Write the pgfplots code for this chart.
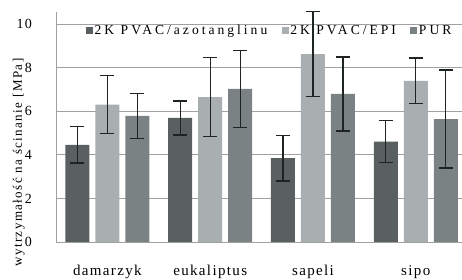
\documentclass[border=0pt]{standalone}
\usepackage{fontspec}
\setmainfont{Liberation Serif}[LetterSpace=12]
\newfontfamily\lsleg{Liberation Serif}[LetterSpace=22]
\newfontfamily\lsx{Liberation Serif}[LetterSpace=9]
\newfontfamily\lsy{Liberation Serif}[LetterSpace=11]
\usepackage{pgfplots}
\pgfplotsset{compat=1.18}
\definecolor{c1}{HTML}{5A6061}
\definecolor{c2}{HTML}{A9AEB0}
\definecolor{c3}{HTML}{7B8284}
\definecolor{gr}{HTML}{A0A0A0}
\definecolor{eb}{HTML}{1E2424}
\pgfplotsset{myerr/.style={error bars/.cd, y dir=both, y explicit,
  error bar style={line width=1.2pt, draw=eb},
  error mark options={rotate=90, line width=1.2pt, mark size=7pt, draw=eb}}}
\begin{document}
\begin{tikzpicture}
\begin{axis}[
  scale only axis, width=406pt, height=230pt,
  at={(0,0)}, anchor=south west,
  ybar=6pt, bar width=24pt,
  xmin=-0.5, xmax=3.45, ymin=0, ymax=10.55,
  xtick={0,1,2,3}, xticklabels={damarzyk,eukaliptus,sapeli,sipo},
  ytick={0,2,4,6,8,10},
  ymajorgrids, grid style={gr, line width=0.8pt},
  major tick length=0pt,
  axis lines*=left, axis line style={gr, line width=0.8pt, -},
  /pgf/number format/assume math mode=true,
  yticklabel style={font=\lsx\fontsize{14}{14}\selectfont, inner sep=0pt, anchor=east, xshift=-24pt},
  xticklabel style={font=\lsx\fontsize{15}{15}\selectfont, anchor=base, yshift=-33.5pt},
  ylabel={wytrzymałość na ścinanie [MPa]},
  ylabel style={font=\lsy\fontsize{13}{13}\selectfont, at={(axis description cs:-0.092,0.345)}, anchor=center},
  legend style={at={(axis description cs:0.0739,0.92)}, anchor=west, legend columns=3, draw=none, fill=none, inner sep=0pt,
    font=\lsleg\fontsize{13.6}{13.6}\selectfont, nodes={inner sep=1.5pt},
    /tikz/every even column/.append style={column sep=13pt}},
  legend image code/.code={\fill[#1,draw=none] (0pt,-3.3pt) rectangle (7pt,3.3pt);},
]
\addplot[fill=c1, draw=none, myerr] coordinates {(0,4.45) +- (0,0.83) (1,5.69) +- (0,0.78) (2,3.85) +- (0,1.05) (3,4.60) +- (0,0.96)};
\addplot[fill=c2, draw=none, myerr] coordinates {(0,6.30) +- (0,1.33) (1,6.65) +- (0,1.80) (2,8.62) +- (0,1.95) (3,7.39) +- (0,1.05)};
\addplot[fill=c3, draw=none, myerr] coordinates {(0,5.78) +- (0,1.03) (1,7.02) +- (0,1.77) (2,6.79) +- (0,1.70) (3,5.64) +- (0,2.25)};
\legend{2K PVAC/azotanglinu, 2K PVAC/EPI, PUR}
\end{axis}
\pgfresetboundingbox
\path (-56pt,-38pt) rectangle (406pt,242pt);
\end{tikzpicture}
\end{document}
